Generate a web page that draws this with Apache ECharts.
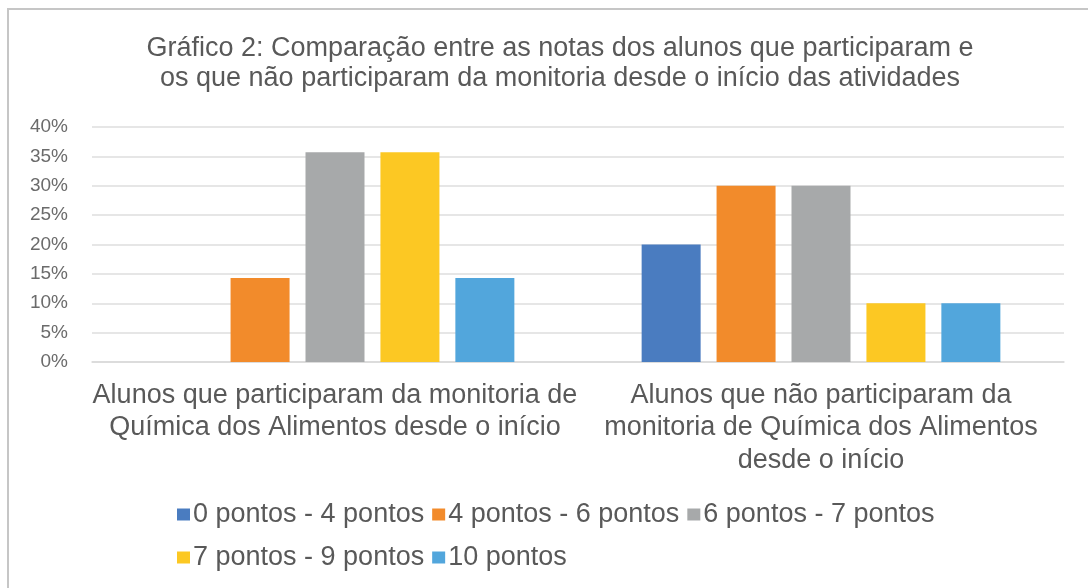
<!DOCTYPE html>
<html>
<head>
<meta charset="utf-8">
<script src="https://cdn.jsdelivr.net/npm/echarts@6/dist/echarts.min.js"></script>
<style>
html,body{margin:0;padding:0;background:#fff;}
#c{width:1088px;height:588px;}
</style>
</head>
<body>
<div id="c"></div>
<script>
const titleText = 'Gráfico 2: Comparação entre as notas dos alunos que participaram e\nos que não participaram da monitoria desde o início das atividades';
const categories = [
  'Alunos que participaram da monitoria de\nQuímica dos Alimentos desde o início',
  'Alunos que não participaram da\nmonitoria de Química dos Alimentos\ndesde o início'
];
const seriesNames = ['0 pontos - 4 pontos', '4 pontos - 6 pontos', '6 pontos - 7 pontos', '7 pontos - 9 pontos', '10 pontos'];
const s0a4 = [0, 20];
const s4a6 = [14.3, 30];
const s6a7 = [35.7, 30];
const s7a9 = [35.7, 10];
const s10 = [14.3, 10];
const yTicks = [0, 5, 10, 15, 20, 25, 30, 35, 40];

const values = [s0a4, s4a6, s6a7, s7a9, s10];
const colors = ['#4a7cc0', '#f28b2b', '#a7a9aa', '#fcc823', '#52a6dc'];
const font = '"Liberation Sans", Arial, sans-serif';
const legendText = {fontFamily: font, fontSize: 27, color: '#595959', padding: [0, 0, 0, -2]};

const chart = echarts.init(document.getElementById('c'));
chart.setOption({
  animation: false,
  backgroundColor: '#fff',
  color: colors,
  graphic: [{
    type: 'rect',
    shape: {x: 8, y: 9, width: 1100, height: 600},
    style: {fill: 'none', stroke: '#c6c6c6', lineWidth: 2},
    silent: true
  }],
  title: {
    text: titleText,
    left: 555,
    textAlign: 'center',
    top: 29,
    textStyle: {fontFamily: font, fontSize: 27, fontWeight: 'normal', color: '#595959', lineHeight: 30}
  },
  legend: [{
    left: 172,
    top: 496,
    itemWidth: 13,
    itemHeight: 12,
    itemGap: 8,
    icon: 'rect',
    textStyle: legendText,
    data: seriesNames.slice(0, 3)
  }, {
    left: 172,
    top: 539,
    itemWidth: 13,
    itemHeight: 12,
    itemGap: 8,
    icon: 'rect',
    textStyle: legendText,
    data: seriesNames.slice(3)
  }],
  grid: {left: 92, right: 24, top: 127, bottom: 226, containLabel: false},
  xAxis: {
    type: 'category',
    data: categories,
    axisLine: {lineStyle: {color: '#d9d9d9', width: 1.5}},
    axisTick: {show: false},
    axisLabel: {fontFamily: font, fontSize: 27, color: '#595959', lineHeight: 32.5, margin: 17, interval: 0}
  },
  yAxis: {
    type: 'value',
    min: yTicks[0],
    max: yTicks[yTicks.length - 1],
    interval: 5,
    axisLine: {show: false},
    axisTick: {show: false},
    splitLine: {lineStyle: {color: '#dedede', width: 1.5}},
    axisLabel: {fontFamily: font, fontSize: 19, color: '#6b6b6b', margin: 24, formatter: v => v + '%'}
  },
  series: seriesNames.map((n, i) => ({
    name: n,
    type: 'bar',
    data: values[i],
    barWidth: 59,
    barGap: '27%',
    itemStyle: {color: colors[i]}
  }))
});
</script>
</body>
</html>
